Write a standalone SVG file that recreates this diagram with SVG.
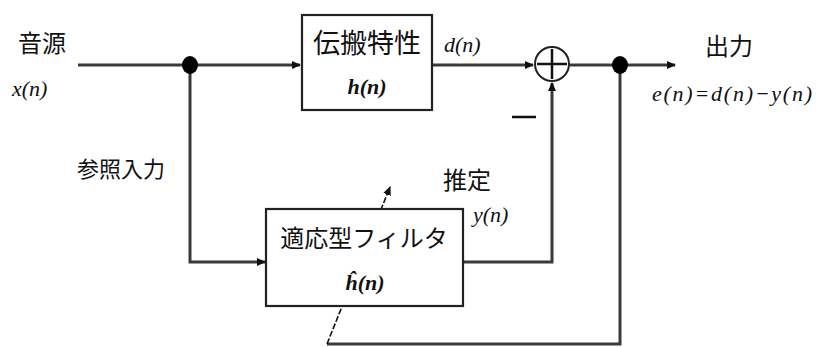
<svg xmlns="http://www.w3.org/2000/svg" width="816" height="347" viewBox="0 0 816 347">
<style>
.ln{fill:none;stroke:#3a3a3a;stroke-width:3}
.thin{fill:none;stroke:#111;stroke-width:1.6}
.box{fill:#fff;stroke:#222;stroke-width:2.2}
.t{font-family:"Noto Sans CJK JP","Liberation Sans",sans-serif;fill:#111}
.jp{font-size:24px}
.m{font-family:"Liberation Serif","Noto Sans CJK JP",serif;font-style:italic;font-size:22px;fill:#111}
</style>
<defs>
<marker id="ah" markerWidth="10" markerHeight="10" refX="8" refY="5" orient="auto" markerUnits="userSpaceOnUse">
<path d="M0,1 L9,5 L0,9 Z" fill="#111"/>
</marker>
</defs>
<rect width="816" height="347" fill="#fff"/>
<g id="connectors">
<line class="ln" x1="78" y1="65" x2="300" y2="65" marker-end="url(#ah)"/>
<polyline class="ln" points="190,65 190,262 265,262" marker-end="url(#ah)"/>
<line class="ln" x1="432" y1="65" x2="533" y2="65" marker-end="url(#ah)"/>
<line class="ln" x1="570" y1="65" x2="675" y2="65" marker-end="url(#ah)"/>
<polyline class="ln" points="463,262 552,262 552,83" marker-end="url(#ah)"/>
<polyline class="ln" points="620,65 620,344 327,344"/>
<line class="thin" x1="327" y1="344" x2="390" y2="187" stroke-dasharray="6,2" marker-end="url(#ah)"/>
</g>
<g id="src">
<text class="t jp" x="18" y="52">音源</text>
<text class="m" x="12" y="96">x(n)</text>
</g>
<g id="junction1"><ellipse cx="190" cy="65" rx="8" ry="9" fill="#000"/></g>
<g id="plant">
<rect class="box" x="302" y="15" width="130" height="95"/>
<text class="t" x="367" y="53" font-size="27" text-anchor="middle">伝搬特性</text>
<text class="m" x="367" y="94" text-anchor="middle" font-weight="bold">h(n)</text>
</g>
<text class="m" x="444" y="52">d(n)</text>
<g id="summer">
<circle cx="552" cy="64" r="17" fill="#fff" stroke="#222" stroke-width="2"/>
<line x1="552" y1="49" x2="552" y2="79" stroke="#111" stroke-width="2.5"/>
<line x1="537" y1="64" x2="567" y2="64" stroke="#111" stroke-width="2.5"/>
<line x1="512" y1="117" x2="536" y2="117" stroke="#111" stroke-width="2.5"/>
</g>
<g id="junction2"><ellipse cx="620" cy="65" rx="8" ry="9" fill="#000"/></g>
<g id="output">
<text class="t jp" x="705" y="55">出力</text>
<text class="m" x="652" y="101" textLength="160" lengthAdjust="spacing">e(n)=d(n)−y(n)</text>
</g>
<g id="ref"><text class="t" x="77" y="177" font-size="22">参照入力</text></g>
<g id="est">
<text class="t jp" x="443" y="189">推定</text>
<text class="m" x="473" y="222">y(n)</text>
</g>
<g id="filter">
<rect class="box" x="266" y="209" width="197" height="97"/>
<text class="t" x="364" y="247" font-size="24" text-anchor="middle">適応型フィルタ</text>
<text class="m" x="365" y="290" text-anchor="middle" font-weight="bold">ĥ(n)</text>
</g>
</svg>
